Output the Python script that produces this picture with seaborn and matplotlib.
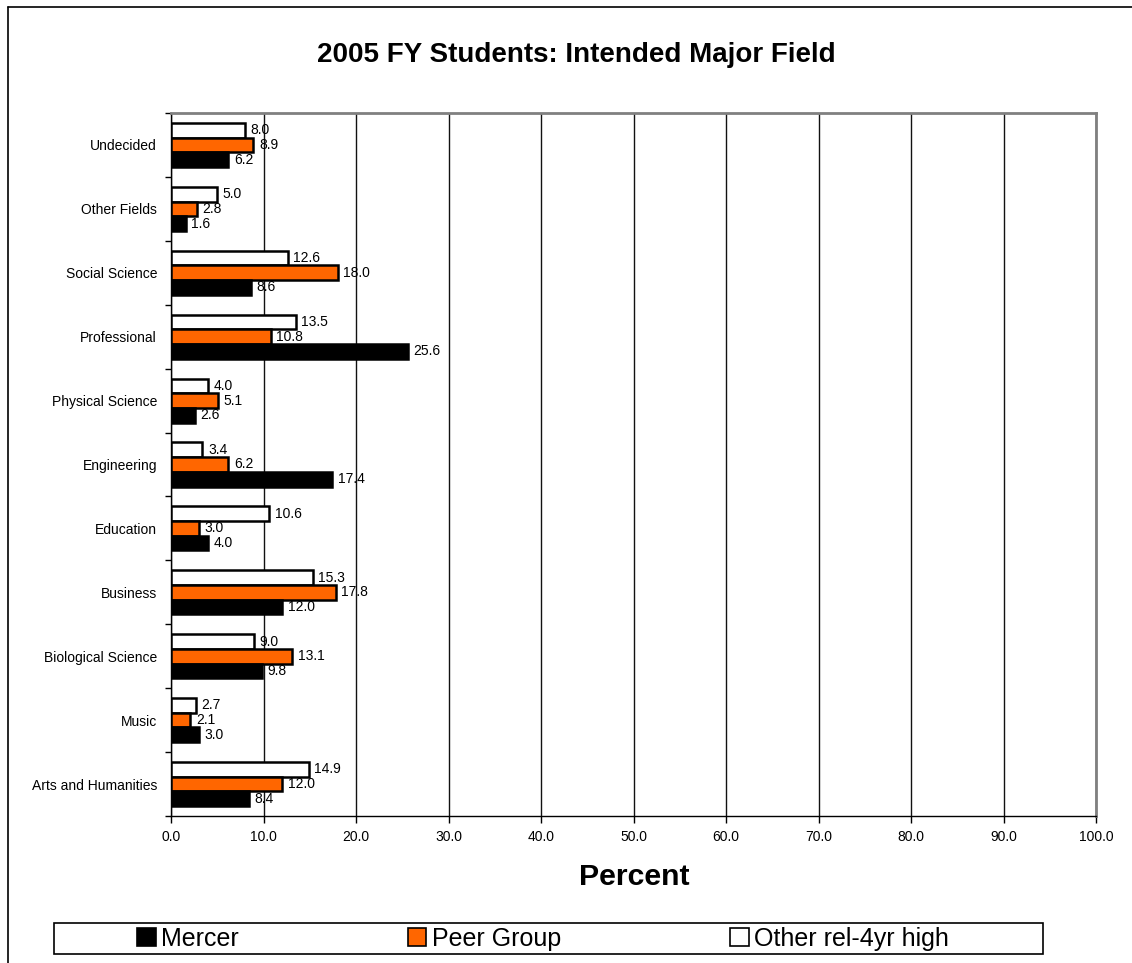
import pandas as pd
import seaborn as sns
import matplotlib.pyplot as plt
from matplotlib.lines import Line2D
from matplotlib.patches import Rectangle, Patch
from matplotlib.ticker import FixedLocator, FormatStrFormatter

# data (top to bottom)
fields = ["Undecided", "Other Fields", "Social Science", "Professional",
          "Physical Science", "Engineering", "Education", "Business",
          "Biological Science", "Music", "Arts and Humanities"]
mercer = [6.2, 1.6, 8.6, 25.6, 2.6, 17.4, 4.0, 12.0, 9.8, 3.0, 8.4]
peer_group = [8.9, 2.8, 18.0, 10.8, 5.1, 6.2, 3.0, 17.8, 13.1, 2.1, 12.0]
other_high = [8.0, 5.0, 12.6, 13.5, 4.0, 3.4, 10.6, 15.3, 9.0, 2.7, 14.9]
groups = ["Mercer", "Peer Group", "Other rel-4yr high"]
colors = {"Mercer": "#000000", "Peer Group": "#FF6600", "Other rel-4yr high": "#FFFFFF"}

# long format table for seaborn
df = pd.DataFrame({"field": fields * 3,
                   "group": [g for g in groups for _ in fields],
                   "percent": mercer + peer_group + other_high})

sns.set_style("white")
plt.rcParams['font.family'] = ['Liberation Sans', 'DejaVu Sans']
plt.rcParams.update({"text.color": "black", "axes.labelcolor": "black",
                     "xtick.color": "black", "ytick.color": "black"})

fig = plt.figure(figsize=(11.32, 9.63), dpi=100)
ax = fig.add_axes([171 / 1132, 1 - 816 / 963, (1096 - 171) / 1132, (816 - 113) / 963])

# white bar on top, black at bottom within each group
hue_order = ["Other rel-4yr high", "Peer Group", "Mercer"]
sns.barplot(data=df, y="field", x="percent", hue="group", order=fields,
            hue_order=hue_order, palette=colors, saturation=1, orient="h",
            width=0.69, edgecolor="black", linewidth=1.8, ax=ax,
            legend=False, zorder=3)

for cont in ax.containers:
    ax.bar_label(cont, fmt="%.1f", padding=4, fontsize=10, zorder=4)

# x axis
ax.set_xlim(0, 100)
ax.set_xticks(range(0, 101, 10))
ax.xaxis.set_major_formatter(FormatStrFormatter("%.1f"))
ax.xaxis.grid(True, color="#111111", linewidth=1)
ax.set_axisbelow(True)
ax.tick_params(axis="x", bottom=True, length=5, width=1, color="black",
               labelsize=10, pad=5)

# y axis: labels at centres, tick marks at group boundaries
ax.set_ylim(len(fields) - 0.5, -0.5)
ax.tick_params(axis="y", left=False, length=0, labelsize=10, pad=10)
ax.yaxis.set_minor_locator(FixedLocator([i - 0.5 for i in range(len(fields) + 1)]))
ax.tick_params(axis="y", which="minor", left=True, length=4, width=1, color="black")
ax.set_xlabel("")
ax.set_ylabel("")

for side in ["left", "bottom"]:
    ax.spines[side].set_color("black")
    ax.spines[side].set_linewidth(1)
for side in ["top", "right"]:
    ax.spines[side].set_color("#808080")
    ax.spines[side].set_linewidth(2)

fig.text(576 / 1132, 1 - 55 / 963, "2005 FY Students: Intended Major Field",
         ha="center", va="center", fontsize=20, fontweight="bold")
fig.text(634 / 1132, 1 - 877 / 963, "Percent", ha="center", va="center",
         fontsize=21.8, fontweight="bold")

# legend, in the order Mercer / Peer Group / Other
handles = [Patch(facecolor=colors[g], edgecolor="black", linewidth=1.2) for g in groups]
fig.legend(handles, groups, loc="center", ncol=3,
           bbox_to_anchor=(543 / 1132, 1 - 938.5 / 963), frameon=False,
           fontsize=18, handlelength=0.75, handleheight=0.75,
           handletextpad=0.22, columnspacing=6.75, borderaxespad=0)
fig.patches.append(Rectangle((54 / 1132, 1 - 954 / 963), (1043 - 54) / 1132, 31 / 963,
                             transform=fig.transFigure, fill=False,
                             edgecolor="black", linewidth=1.2))

# outer chart frame (left and top edges)
fig.add_artist(Line2D([8 / 1132, 8 / 1132], [0, 1 - 7 / 963], color="black", linewidth=1.2))
fig.add_artist(Line2D([8 / 1132, 1], [1 - 7 / 963, 1 - 7 / 963], color="black", linewidth=1.2))

fig.savefig("out.png", dpi=100)
